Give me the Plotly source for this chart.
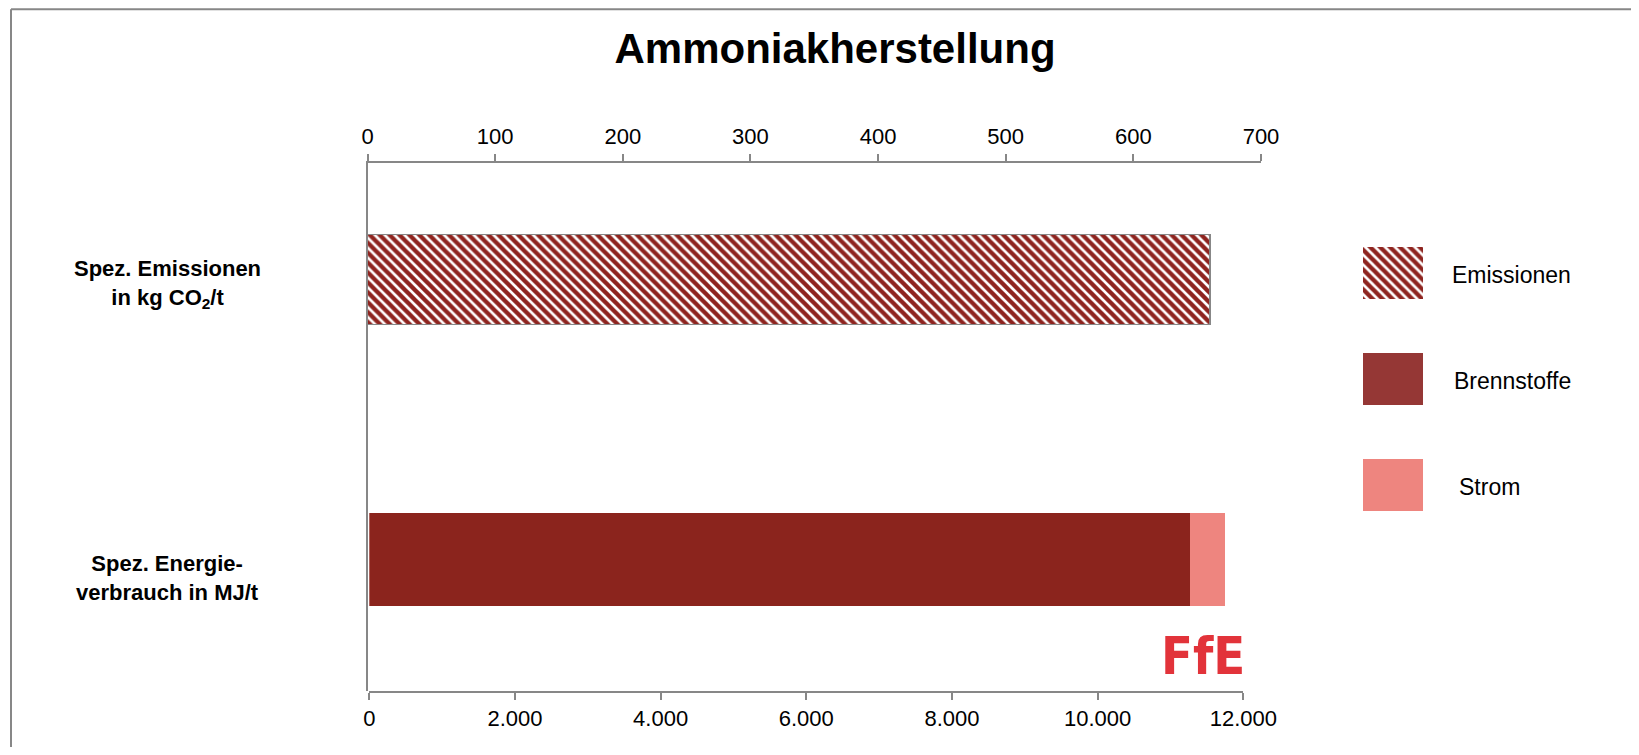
import plotly.graph_objects as go

W, H = 1639, 755
OFF = 8  # page body margin offset
FW, FH = W - 2 * OFF, H - 2 * OFF  # figure size so the page does not overflow

# ---- data ----
categories = ["Spez. Emissionen<br>in kg CO<sub>2</sub>/t", "Spez. Energie-<br>verbrauch in MJ/t"]
emissionen = [660]          # kg CO2/t
brennstoffe = [11270]       # MJ/t
strom = [480]               # MJ/t
top_ticks = [0, 100, 200, 300, 400, 500, 600, 700]
bottom_ticks = [0, 2000, 4000, 6000, 8000, 10000, 12000]
bottom_ticktext = ["0", "2.000", "4.000", "6.000", "8.000", "10.000", "12.000"]
legend_names = ["Emissionen", "Brennstoffe", "Strom"]
legend_swatch = [1, 1, 1]


def px(x):
    return (x - OFF) / FW


def py(y):
    return 1 - (y - OFF) / FH


FONT = "Liberation Sans, Arial, sans-serif"
GRAY = "#878787"
HATCH = "#8E241F"
C_BRENN = "#8B241D"
C_BRENN_LEG = "#953735"
C_STROM = "#EE857F"
HATCH_PATTERN = dict(shape="\\", bgcolor="white", fgcolor=HATCH, fgopacity=1,
                     size=7, solidity=0.62)

fig = go.Figure()

# emissions bar (top axis)
fig.add_trace(go.Bar(
    y=[categories[0]], x=emissionen, orientation="h", xaxis="x2", yaxis="y2",
    width=0.32, name="Emissionen",
    marker=dict(color=HATCH, line=dict(color=GRAY, width=1.5), pattern=HATCH_PATTERN),
    showlegend=False,
))
# energy bars (bottom axis)
fig.add_trace(go.Bar(
    y=[categories[1]], x=brennstoffe, orientation="h", xaxis="x", yaxis="y",
    width=0.33, name="Brennstoffe", marker=dict(color=C_BRENN, line=dict(width=0)),
    showlegend=False,
))
fig.add_trace(go.Bar(
    y=[categories[1]], x=strom, orientation="h", xaxis="x", yaxis="y",
    width=0.33, name="Strom", marker=dict(color=C_STROM, line=dict(width=0)),
    showlegend=False,
))

# custom legend swatches on hidden axes
leg_colors = [HATCH, C_BRENN_LEG, C_STROM]
for i, nm in enumerate(legend_names):
    mk = dict(color=leg_colors[i], line=dict(width=0))
    if i == 0:
        mk["pattern"] = HATCH_PATTERN
    fig.add_trace(go.Bar(
        y=[nm], x=[legend_swatch[i]], orientation="h", xaxis="x3", yaxis="y3",
        width=0.49, marker=mk, showlegend=False, hoverinfo="skip",
    ))

ydom = [py(690.7), py(163.3)]
yrange = [1.4686, -0.415]

fig.update_layout(
    width=FW, height=FH,
    margin=dict(l=0, r=0, t=0, b=0, autoexpand=False),
    paper_bgcolor="white", plot_bgcolor="rgba(0,0,0,0)",
    font=dict(family=FONT, size=22, color="#000000"),
    barmode="stack",
    title=dict(text="<b>Ammoniakherstellung</b>", x=px(835), y=py(48),
               xanchor="center", yanchor="middle", xref="paper", yref="paper",
               font=dict(family=FONT, size=42, color="#000000")),
    xaxis=dict(domain=[px(369.3), px(1243.3)], range=[0, 12000], anchor="y",
               tickvals=bottom_ticks, ticktext=bottom_ticktext,
               showline=True, linecolor=GRAY, linewidth=2,
               ticks="outside", ticklen=7, tickcolor=GRAY, tickwidth=2,
               showgrid=False, zeroline=False,
               tickfont=dict(size=22, color="#000000")),
    xaxis2=dict(domain=[px(367.5), px(1261)], range=[0, 700], anchor="y2", side="top",
                tickvals=top_ticks,
                showline=True, linecolor=GRAY, linewidth=2,
                ticks="outside", ticklen=7, tickcolor=GRAY, tickwidth=2,
                ticklabelstandoff=2,
                showgrid=False, zeroline=False,
                tickfont=dict(size=22, color="#000000")),
    yaxis=dict(domain=ydom, range=yrange, type="category",
               categoryorder="array", categoryarray=categories, anchor="x",
               showticklabels=False, showline=False, showgrid=False, zeroline=False),
    yaxis2=dict(domain=ydom, range=yrange, type="category",
                categoryorder="array", categoryarray=categories, anchor="x2",
                showticklabels=False, showline=True, linecolor=GRAY, linewidth=2,
                showgrid=False, zeroline=False, ticks=""),
    xaxis3=dict(domain=[px(1363), px(1423)], range=[0, 1], anchor="y3", visible=False),
    yaxis3=dict(domain=[py(538), py(220)], range=[2.5, -0.5], type="category",
                categoryorder="array", categoryarray=legend_names, anchor="x3", visible=False),
)

# category labels
for cat, ys in zip(categories, [-4, -19]):
    fig.add_annotation(x=px(167), y=cat, xref="paper", yref="y2", text=f"<b>{cat}</b>",
                       showarrow=False, xanchor="center", yanchor="middle", align="center",
                       yshift=ys, font=dict(family=FONT, size=22, color="#000000"))

# legend labels
for nm, xx in zip(legend_names, [1450, 1452, 1457]):
    fig.add_annotation(x=px(xx), y=nm, xref="paper", yref="y3", text=nm, showarrow=False,
                       xanchor="left", yanchor="middle", yshift=-2,
                       font=dict(family=FONT, size=23, color="#000000"))

# FfE logo
fig.add_annotation(x=px(1203), y=py(656), xref="paper", yref="paper", text="<b>FfE</b>",
                   showarrow=False, xanchor="center", yanchor="middle",
                   font=dict(family="Liberation Sans Narrow, DejaVu Sans Condensed, Arial Narrow, sans-serif",
                             size=52, color="#E2333A"))

# outer border: only left and top edges are visible in the picture
top_y = 1 - 1.2 / FH
fig.add_shape(type="line", xref="paper", yref="paper", x0=px(11), x1=px(11), y0=0, y1=top_y,
              line=dict(color=GRAY, width=2), layer="below")
fig.add_shape(type="line", xref="paper", yref="paper", x0=px(11), x1=1, y0=top_y, y1=top_y,
              line=dict(color=GRAY, width=2), layer="below")

fig.write_html("out.html")
